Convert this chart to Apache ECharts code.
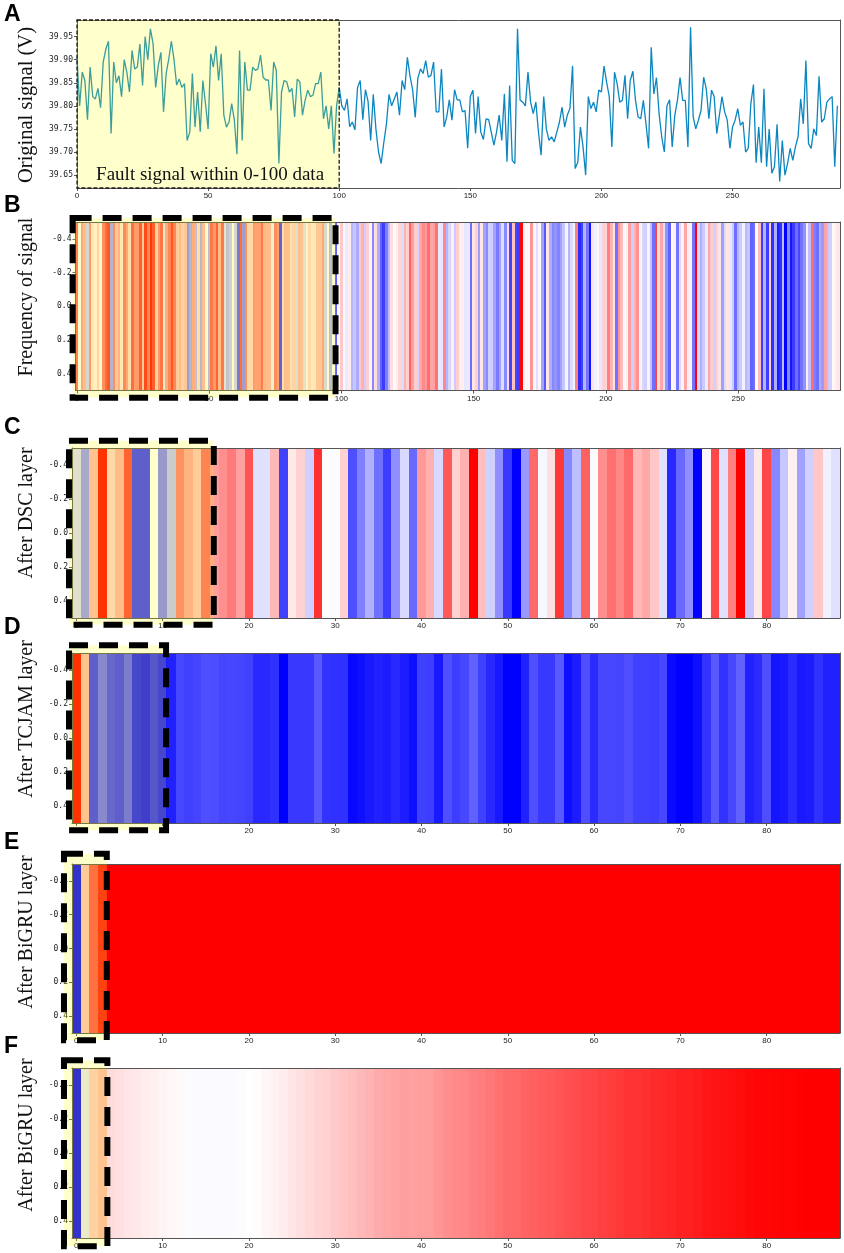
<!DOCTYPE html>
<html>
<head>
<meta charset="utf-8">
<title>Fault signal feature maps</title>
<script src="https://cdn.jsdelivr.net/npm/echarts@6/dist/echarts.min.js"></script>
<style>
    html, body { margin: 0; padding: 0; background: #fff; }
    #main { width: 844px; height: 1253px; }
</style>
</head>
<body>
<div id="main"></div>
<script>
// 原始信号 (A)；B 图的色带用同一序列的前 freqColumns 个点
var signal = [
    39.905, 39.800, 39.873, 39.855, 39.770, 39.884, 39.820, 39.815, 39.838, 39.796,
    39.895, 39.923, 39.940, 39.740, 39.895, 39.850, 39.865, 39.820, 39.900, 39.873,
    39.830, 39.920, 39.880, 39.884, 39.934, 39.844, 39.950, 39.900, 39.967, 39.935,
    39.840, 39.887, 39.916, 39.787, 39.870, 39.902, 39.940, 39.900, 39.845, 39.858,
    39.840, 39.848, 39.725, 39.743, 39.870, 39.754, 39.830, 39.744, 39.855, 39.805,
    39.750, 39.913, 39.884, 39.930, 39.855, 39.913, 39.780, 39.754, 39.765, 39.805,
    39.770, 39.695, 39.920, 39.725, 39.895, 39.834, 39.834, 39.884, 39.877, 39.880,
    39.910, 39.862, 39.856, 39.856, 39.790, 39.895, 39.877, 39.675, 39.830, 39.855,
    39.852, 39.830, 39.838, 39.776, 39.858, 39.852, 39.780, 39.812, 39.834, 39.820,
    39.823, 39.848, 39.848, 39.873, 39.772, 39.800, 39.750, 39.800, 39.697, 39.800,
    39.840, 39.800, 39.790, 39.815, 39.755, 39.765, 39.748, 39.840, 39.855, 39.770,
    39.835, 39.810, 39.725, 39.825, 39.750, 39.700, 39.675, 39.720, 39.760, 39.825,
    39.800, 39.815, 39.830, 39.780, 39.855, 39.835, 39.905, 39.865, 39.835, 39.775,
    39.860, 39.880, 39.870, 39.898, 39.862, 39.866, 39.895, 39.787, 39.787, 39.880,
    39.754, 39.776, 39.813, 39.769, 39.835, 39.813, 39.813, 39.787, 39.790, 39.708,
    39.820, 39.834, 39.740, 39.820, 39.743, 39.727, 39.772, 39.770, 39.743, 39.715,
    39.743, 39.780, 39.725, 39.826, 39.679, 39.844, 39.682, 39.675, 39.967, 39.812,
    39.808, 39.800, 39.873, 39.808, 39.783, 39.808, 39.743, 39.693, 39.820, 39.750,
    39.725, 39.733, 39.722, 39.743, 39.765, 39.797, 39.754, 39.780, 39.794, 39.887,
    39.664, 39.678, 39.754, 39.711, 39.650, 39.820, 39.794, 39.808, 39.787, 39.834,
    39.830, 39.886, 39.851, 39.820, 39.711, 39.873, 39.848, 39.808, 39.812, 39.866,
    39.772, 39.855, 39.875, 39.812, 39.776, 39.772, 39.812, 39.761, 39.708, 39.927,
    39.826, 39.861, 39.783, 39.733, 39.700, 39.800, 39.813, 39.711, 39.780, 39.812,
    39.861, 39.812, 39.812, 39.711, 39.970, 39.776, 39.750, 39.769, 39.790, 39.862,
    39.837, 39.772, 39.834, 39.820, 39.740, 39.780, 39.820, 39.787, 39.769, 39.708,
    39.754, 39.769, 39.794, 39.758, 39.765, 39.700, 39.708, 39.805, 39.846, 39.677,
    39.754, 39.677, 39.837, 39.668, 39.750, 39.654, 39.668, 39.760, 39.636, 39.725,
    39.650, 39.675, 39.708, 39.682, 39.711, 39.733, 39.815, 39.761, 39.898, 39.718,
    39.708, 39.750, 39.736, 39.864, 39.765, 39.772, 39.808, 39.815, 39.820, 39.668,
    39.800
];
var freqColumns = 289;
var faultRange = [0, 100];
var faultLabel = 'Fault signal within 0-100 data';

// 刻度
var signalYTicks = [39.65, 39.70, 39.75, 39.80, 39.85, 39.90, 39.95];
var signalXTicks = [0, 50, 100, 150, 200, 250];
var layerXTicks = [0, 10, 20, 30, 40, 50, 60, 70, 80];
var rowTicks = [-0.4, -0.2, 0, 0.2, 0.4];

// 各层输出（-1 蓝 ... 0 白 ... 1 红）
var dscLayer = [
    -0.15, -0.42, 0.29, 1.0, 0.18, 0.32, 0.76, -0.78, -0.78, 0.0,
    -0.5, -0.25, 0.53, 0.37, 0.25, 0.6, 0.39, 0.44, 0.52, 0.37,
    0.67, -0.12, -0.12, 0.28, -0.75, 0.09, 0.18, -0.18, 0.81, -0.01,
    -0.01, 0.18, -0.69, -0.5, -0.31, -0.56, -0.76, -0.44, -0.15, -0.59,
    0.4, 0.31, -0.15, 0.65, 0.18, 0.31, 1.0, 0.25, -0.18, -0.44,
    -0.78, -1.0, -0.4, 0.59, -0.03, 0.12, 0.78, -0.47, -0.25, 0.62,
    -0.02, 0.44, 0.56, 0.47, 0.59, 0.28, 0.34, 0.22, -0.12, -0.84,
    -0.59, -0.44, -1.0, 0.03, 0.72, -0.12, 0.5, 1.0, -0.22, 0.09,
    0.72, -0.47, -0.22, 0.06, -0.37, -0.18, 0.22, -0.06, -0.12
];
var tcjamLayer = [
    1.0, 0.29, -0.78, -0.58, -0.74, -0.78, -0.64, -0.9, -0.94, -0.82,
    -0.9, -0.87, -0.72, -0.75, -0.73, -0.69, -0.7, -0.73, -0.72, -0.73,
    -0.75, -0.84, -0.84, -0.81, -1.0, -0.78, -0.78, -0.78, -0.65, -0.8,
    -0.81, -0.81, -0.97, -0.94, -0.9, -0.87, -0.89, -0.84, -0.89, -0.94,
    -0.75, -0.76, -0.9, -0.69, -0.76, -0.72, -0.62, -0.75, -0.84, -0.9,
    -1.0, -1.0, -0.87, -0.69, -0.78, -0.78, -0.65, -0.94, -0.89, -0.69,
    -0.83, -0.72, -0.72, -0.73, -0.69, -0.75, -0.75, -0.76, -0.72, -0.96,
    -1.0, -1.0, -0.94, -0.8, -0.65, -0.8, -0.72, -0.62, -0.87, -0.83,
    -0.69, -0.92, -0.9, -0.83, -0.9, -0.89, -0.81, -0.87, -0.87
];
var bigruLayer = [
    -1.0, 0.25, 0.69, 0.92, 1, 1, 1, 1, 1, 1,
    1, 1, 1, 1, 1, 1, 1, 1, 1, 1,
    1, 1, 1, 1, 1, 1, 1, 1, 1, 1,
    1, 1, 1, 1, 1, 1, 1, 1, 1, 1,
    1, 1, 1, 1, 1, 1, 1, 1, 1, 1,
    1, 1, 1, 1, 1, 1, 1, 1, 1, 1,
    1, 1, 1, 1, 1, 1, 1, 1, 1, 1,
    1, 1, 1, 1, 1, 1, 1, 1, 1, 1,
    1, 1, 1, 1, 1, 1, 1, 1, 1
];
var bigruLayer2 = [
    -1.0, -0.1, 0.22, 0.29, 0.14, 0.12, 0.1, 0.09, 0.075, 0.06,
    0.045, 0.03, 0.02, -0.01, -0.015, -0.02, -0.02, -0.02, -0.015, -0.01,
    -0.005, 0.01, 0.03, 0.05, 0.075, 0.1, 0.12, 0.145, 0.17, 0.18,
    0.21, 0.23, 0.25, 0.28, 0.3, 0.33, 0.35, 0.36, 0.38, 0.37,
    0.38, 0.39, 0.41, 0.44, 0.46, 0.47, 0.5, 0.51, 0.53, 0.56,
    0.58, 0.59, 0.61, 0.62, 0.64, 0.65, 0.67, 0.69, 0.7, 0.72,
    0.73, 0.75, 0.76, 0.78, 0.8, 0.8, 0.81, 0.83, 0.84, 0.85,
    0.87, 0.87, 0.89, 0.91, 0.92, 0.93, 0.94, 0.95, 0.97, 0.98,
    0.98, 0.985, 0.99, 0.99, 0.995, 1, 1, 1, 1
];

// 版面：每个子图的位置、标题、虚线框（数据坐标）
var panels = [
    {letter: 'A', title: 'Original signal (V)', titleSize: 20.5, titleY: 105, letterY: 3, left: 77, top: 20, height: 168},
    {letter: 'B', title: 'Frequency of signal', titleSize: 20, titleY: 297, letterY: 194, left: 75.5, top: 222, height: 168.5,
        box: {x0: -1.6, x1: 97.8, y0: -0.523, y1: 0.543}},
    {letter: 'C', title: 'After DSC layer', titleSize: 20, titleY: 513, letterY: 416, left: 72, top: 448, height: 170,
        box: {x0: -0.85, x1: 15.93, y0: -0.543, y1: 0.539}},
    {letter: 'D', title: 'After TCJAM layer', titleSize: 20, titleY: 719, letterY: 616, left: 72, top: 653, height: 170,
        box: {x0: -0.85, x1: 10.4, y0: -0.545, y1: 0.543}},
    {letter: 'E', title: 'After BiGRU layer', titleSize: 20, titleY: 932, letterY: 831, left: 72, top: 864, height: 169,
        box: {x0: -1.43, x1: 3.53, y0: -0.56, y1: 0.543}},
    {letter: 'F', title: 'After BiGRU layer', titleSize: 20, titleY: 1135, letterY: 1035, left: 72, top: 1068, height: 170,
        box: {x0: -1.43, x1: 3.6, y0: -0.545, y1: 0.549}}
];

var frameColor = '#555';
var bwr = ['#0000ff', '#ffffff', '#ff0000'];
var grids = [], xAxes = [], yAxes = [], series = [], visualMaps = [], graphics = [];

function frameLine() {
    return {show: true, onZero: false, lineStyle: {color: frameColor, width: 1}};
}

function addAxes(k, p, xr, xTicks, yr, yTicks, yInverse, yDigits) {
    grids.push({left: p.left, right: 4, top: p.top, height: p.height, outerBoundsMode: 'none'});
    xAxes.push({
        type: 'value', gridIndex: k, position: 'bottom', min: xr[0], max: xr[1], z: 4,
        axisLine: frameLine(),
        axisTick: {show: true, length: 3, customValues: xTicks, lineStyle: {color: frameColor}},
        axisLabel: {customValues: xTicks, fontSize: 8, color: '#222', fontFamily: 'Liberation Sans', margin: 4},
        splitLine: {show: false}
    });
    xAxes.push({
        type: 'value', gridIndex: k, position: 'top', min: xr[0], max: xr[1], z: 4,
        axisLine: frameLine(), axisTick: {show: false}, axisLabel: {show: false}, splitLine: {show: false}
    });
    yAxes.push({
        type: 'value', gridIndex: k, position: 'left', min: yr[0], max: yr[1], inverse: yInverse, z: 4,
        axisLine: frameLine(),
        axisTick: {show: true, length: 3, customValues: yTicks, lineStyle: {color: frameColor}},
        axisLabel: {
            customValues: yTicks, fontSize: 8, color: '#222', fontFamily: 'DejaVu Sans Mono', margin: 4,
            formatter: function (v) { return v.toFixed(yDigits); }
        },
        splitLine: {show: false}
    });
    yAxes.push({
        type: 'value', gridIndex: k, position: 'right', min: yr[0], max: yr[1], inverse: yInverse, z: 4,
        axisLine: frameLine(), axisTick: {show: false}, axisLabel: {show: false}, splitLine: {show: false}
    });
}

// 色块：每列一个矩形，边界取整避免缝隙，颜色由 visualMap 给出
function cellItem(params, api) {
    var i = api.value(0);
    var a = api.coord([i - 0.5, -0.5]);
    var b = api.coord([i + 0.5, 0.5]);
    var x0 = Math.round(a[0]), x1 = Math.round(b[0]);
    var y0 = Math.round(a[1]), y1 = Math.round(b[1]);
    var c = api.visual('color');
    return {
        type: 'rect',
        shape: {x: x0, y: y0, width: x1 - x0, height: y1 - y0},
        style: {fill: c}
    };
}

function boxItem(box) {
    return function (params, api) {
        var a = api.coord([box.x0, box.y0]);
        var b = api.coord([box.x1, box.y1]);
        return {
            type: 'rect',
            shape: {x: a[0], y: a[1], width: b[0] - a[0], height: b[1] - a[1]},
            style: {fill: 'rgba(255,255,0,0.2)', stroke: '#000', lineWidth: 6, lineDash: [19, 11]}
        };
    };
}

// A：原始信号折线
addAxes(0, panels[0], [0, 291], signalXTicks, [39.622, 39.986], signalYTicks, false, 2);
series.push({
    type: 'line', xAxisIndex: 0, yAxisIndex: 0, z: 2,
    data: signal.map(function (v, i) { return [i, v]; }),
    symbol: 'none', smooth: false,
    lineStyle: {color: '#0a86c1', width: 1.3},
    itemStyle: {color: '#0a86c1'}
});
series.push({
    type: 'custom', xAxisIndex: 0, yAxisIndex: 0, z: 10, silent: true,
    data: [faultRange],
    renderItem: function (params, api) {
        var x0 = api.coord([api.value(0), 39.8])[0];
        var x1 = api.coord([api.value(1), 39.8])[0];
        var cs = params.coordSys;
        return {
            type: 'group',
            children: [
                {
                    type: 'rect',
                    shape: {x: x0, y: cs.y, width: x1 - x0, height: cs.height},
                    style: {fill: 'rgba(255,255,0,0.2)', stroke: '#1a1a1a', lineWidth: 1.3, lineDash: [4, 2]}
                },
                {
                    type: 'text', x: (x0 + x1) / 2 + 2, y: cs.y + cs.height - 13,
                    style: {
                        text: faultLabel, fontSize: 19, fontFamily: 'Liberation Serif',
                        fill: '#111', align: 'center', verticalAlign: 'middle'
                    }
                }
            ]
        };
    }
});

// B-F：热力色带
var freqRow = signal.slice(0, freqColumns);
var rows = [
    {values: freqRow, range: [-0.5, freqColumns - 0.5], ticks: signalXTicks,
        min: Math.min.apply(null, freqRow), max: Math.max.apply(null, freqRow)},
    {values: dscLayer, range: [-0.5, dscLayer.length - 0.5], ticks: layerXTicks, min: -1, max: 1},
    {values: tcjamLayer, range: [-0.5, tcjamLayer.length - 0.5], ticks: layerXTicks, min: -1, max: 1},
    {values: bigruLayer, range: [-0.5, bigruLayer.length - 0.5], ticks: layerXTicks, min: -1, max: 1},
    {values: bigruLayer2, range: [-0.5, bigruLayer2.length - 0.5], ticks: layerXTicks, min: -1, max: 1}
];

rows.forEach(function (row, n) {
    var k = n + 1;
    var p = panels[k];
    addAxes(k, p, row.range, row.ticks, [-0.5, 0.5], rowTicks, true, 1);
    visualMaps.push({
        type: 'continuous', show: false, seriesIndex: series.length, dimension: 1,
        min: row.min, max: row.max, inRange: {color: bwr}
    });
    series.push({
        type: 'custom', xAxisIndex: 2 * k, yAxisIndex: 2 * k, z: 2, silent: true,
        data: row.values.map(function (v, i) { return [i, v]; }),
        renderItem: cellItem
    });
    series.push({
        type: 'custom', xAxisIndex: 2 * k, yAxisIndex: 2 * k, z: 10, silent: true,
        data: [[p.box.x0, p.box.y0]],
        renderItem: boxItem(p.box)
    });
});

// 字母编号和纵向标题
panels.forEach(function (p) {
    graphics.push({
        type: 'text', x: 4, y: p.letterY,
        style: {text: p.letter, fontSize: 23, fontWeight: 'bold', fontFamily: 'Liberation Sans',
            fill: '#000', align: 'left', verticalAlign: 'top'}
    });
    graphics.push({
        type: 'text', x: 27, y: p.titleY, rotation: Math.PI / 2,
        style: {text: p.title, fontSize: p.titleSize, fontFamily: 'Liberation Serif',
            fill: '#111', align: 'center', verticalAlign: 'middle'}
    });
});

var chart = echarts.init(document.getElementById('main'));
chart.setOption({
    animation: false,
    backgroundColor: '#fff',
    grid: grids,
    xAxis: xAxes,
    yAxis: yAxes,
    visualMap: visualMaps,
    series: series,
    graphic: graphics
});
</script>
</body>
</html>
